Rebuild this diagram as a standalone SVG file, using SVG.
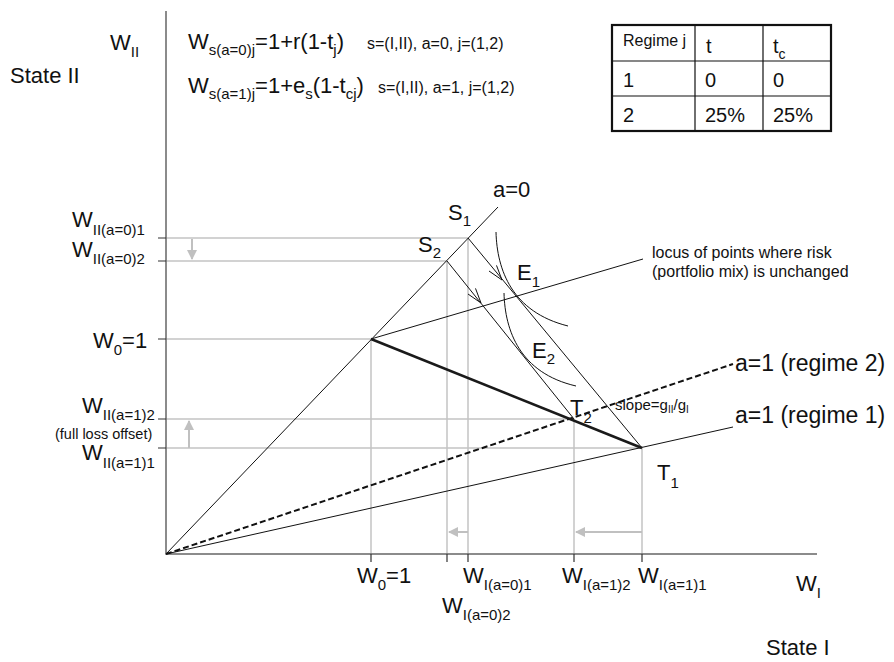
<svg xmlns="http://www.w3.org/2000/svg" width="894" height="662" viewBox="0 0 894 662">
<style>
text{font-family:"Liberation Sans",Arial,Helvetica,sans-serif;fill:#111}
.big{font-size:22px}
.sub{font-size:15px}
.sm{font-size:16px}
.tiny{font-size:15px}
.axis{stroke:#666;stroke-width:1.5;fill:none}
.tick{stroke:#333;stroke-width:1.2;fill:none}
.guide{stroke:#c4c4c4;stroke-width:1.5;fill:none}
.ln{stroke:#111;stroke-width:1;fill:none}
.thick{stroke:#1a1a1a;stroke-width:2.6;fill:none}
.dash{stroke:#111;stroke-width:2;stroke-dasharray:6 3;fill:none}
.garrow{stroke:#c0c0c0;stroke-width:2;fill:none;marker-end:url(#ga)}
.tblo{stroke:#111;stroke-width:2.2;fill:none}
.tbli{stroke:#111;stroke-width:1.2;fill:none}
</style>
<defs>
<marker id="ga" viewBox="0 0 10 10" refX="9" refY="5" markerWidth="5" markerHeight="5" orient="auto" markerUnits="strokeWidth">
<path d="M0,0 L10,5 L0,10 z" fill="#c0c0c0"/>
</marker>
</defs>
<rect width="894" height="662" fill="#fff"/>

<g id="guides">
<path class="guide" d="M166,238 H468 M166,261 H447 M166,339 H371 M166,419 H574 M166,448 H642"/>
<path class="guide" d="M371,339 V554 M447,261 V554 M468,238 V554 M574,419 V554 M642,448 V554"/>
<path class="garrow" d="M192,239 V259"/>
<path class="garrow" d="M189,448 V421"/>
<path class="garrow" d="M468,532 H449"/>
<path class="garrow" d="M642,532 H576"/>
</g>

<g id="axes">
<path class="axis" d="M166,11 V554 H817"/>
<path class="tick" d="M158,238 H166 M158,261 H166 M158,339 H166 M158,419 H166 M158,448 H166"/>
<path class="tick" d="M371,554 V562 M447,554 V562 M468,554 V562 M574,554 V562 M642,554 V562"/>
</g>

<g id="connectors">
<path id="a0" class="ln" d="M166,554 L498,207"/>
<path id="locus" class="ln" d="M371,339 L643,259"/>
<path id="budget1" class="ln" d="M468,238 L642,448"/>
<path id="budget2" class="ln" d="M447,261 L574,419"/>
<path id="regime1" class="ln" d="M166,554 L733,427"/>
<path id="regime2" class="dash" d="M166,554 L733,364"/>
<path id="thick" class="thick" d="M371,339 L642,448"/>
<path id="E1curve" class="ln" d="M496,232 C497,270 512,312 568,326"/>
<path id="E2curve" class="ln" d="M504,293 C505,331 520,373 576,386"/>
<path class="ln" d="M489,271 L502,280 L496.5,265.4"/>
<path class="ln" d="M468,294 L481,303 L475.5,288.4"/>
</g>

<g id="formulas">
<text class="big" x="188" y="49">W<tspan class="sub" dy="6">s(a=0)j</tspan><tspan dy="-6">=1+r(1-t</tspan><tspan class="sub" dy="6">j</tspan><tspan dy="-6">)</tspan></text>
<text class="sm" x="367" y="49">s=(I,II), a=0, j=(1,2)</text>
<text class="big" x="188" y="93">W<tspan class="sub" dy="6">s(a=1)j</tspan><tspan dy="-6">=1+e</tspan><tspan class="sub" dy="6">s</tspan><tspan dy="-6">(1-t</tspan><tspan class="sub" dy="6">cj</tspan><tspan dy="-6">)</tspan></text>
<text class="sm" x="378" y="93">s=(I,II), a=1, j=(1,2)</text>
</g>

<g id="table">
<rect class="tblo" x="612" y="25" width="219" height="106"/>
<path class="tbli" d="M695,25 V131 M763,25 V131 M612,61 H831 M612,96 H831"/>
<text class="sm" x="623" y="46">Regime j</text>
<text class="big" x="706" y="53" style="font-size:20px">t</text>
<text class="big" x="773" y="53" style="font-size:20px">t<tspan class="sub" dy="6" style="font-size:14px">c</tspan></text>
<text class="big" x="623" y="87" style="font-size:20px">1</text>
<text class="big" x="705" y="87" style="font-size:20px">0</text>
<text class="big" x="773" y="87" style="font-size:20px">0</text>
<text class="big" x="623" y="122" style="font-size:20px">2</text>
<text class="big" x="705" y="122" style="font-size:20px">25%</text>
<text class="big" x="773" y="122" style="font-size:20px">25%</text>
</g>

<g id="axis-labels">
<text class="big" x="110" y="50">W<tspan class="sub" dy="7">II</tspan></text>
<text class="big" x="10" y="83">State II</text>
<text class="big" x="796" y="591">W<tspan class="sub" dy="7">I</tspan></text>
<text class="big" x="766" y="655">State I</text>
</g>

<g id="y-labels">
<text class="big" x="72" y="227">W<tspan class="sub" dy="8">II(a=0)1</tspan></text>
<text class="big" x="72" y="257">W<tspan class="sub" dy="7">II(a=0)2</tspan></text>
<text class="big" x="93" y="348">W<tspan class="sub" dy="7">0</tspan><tspan dy="-7">=1</tspan></text>
<text class="big" x="82" y="413">W<tspan class="sub" dy="7">II(a=1)2</tspan></text>
<text class="tiny" x="55" y="439" style="font-size:14.5px">(full loss offset)</text>
<text class="big" x="82" y="460">W<tspan class="sub" dy="8">II(a=1)1</tspan></text>
</g>

<g id="x-labels">
<text class="big" x="357" y="583">W<tspan class="sub" dy="7">0</tspan><tspan dy="-7">=1</tspan></text>
<text class="big" x="463" y="583">W<tspan class="sub" dy="7">I(a=0)1</tspan></text>
<text class="big" x="442" y="613">W<tspan class="sub" dy="7">I(a=0)2</tspan></text>
<text class="big" x="562" y="583">W<tspan class="sub" dy="7">I(a=1)2</tspan></text>
<text class="big" x="638" y="583">W<tspan class="sub" dy="7">I(a=1)1</tspan></text>
</g>

<g id="point-labels">
<text class="big" x="493" y="197">a=0</text>
<text class="big" x="448" y="220">S<tspan class="sub" dy="6">1</tspan></text>
<text class="big" x="418" y="252">S<tspan class="sub" dy="6">2</tspan></text>
<text class="big" x="517" y="280">E<tspan class="sub" dy="7">1</tspan></text>
<text class="big" x="532" y="358">E<tspan class="sub" dy="6">2</tspan></text>
<text class="big" x="570" y="415">T<tspan class="sub" dy="8">2</tspan></text>
<text class="big" x="657" y="480">T<tspan class="sub" dy="8">1</tspan></text>
<text class="tiny" x="615" y="410">slope=g<tspan dy="3" style="font-size:10px">II</tspan><tspan dy="-3">/g</tspan><tspan dy="3" style="font-size:10px">I</tspan></text>
<text class="sm" x="652" y="258">locus of points where risk</text>
<text class="sm" x="652" y="277">(portfolio mix) is unchanged</text>
<text class="big" x="735" y="371" style="font-size:23px">a=1 (regime 2)</text>
<text class="big" x="735" y="423" style="font-size:23px">a=1 (regime 1)</text>
</g>
</svg>
